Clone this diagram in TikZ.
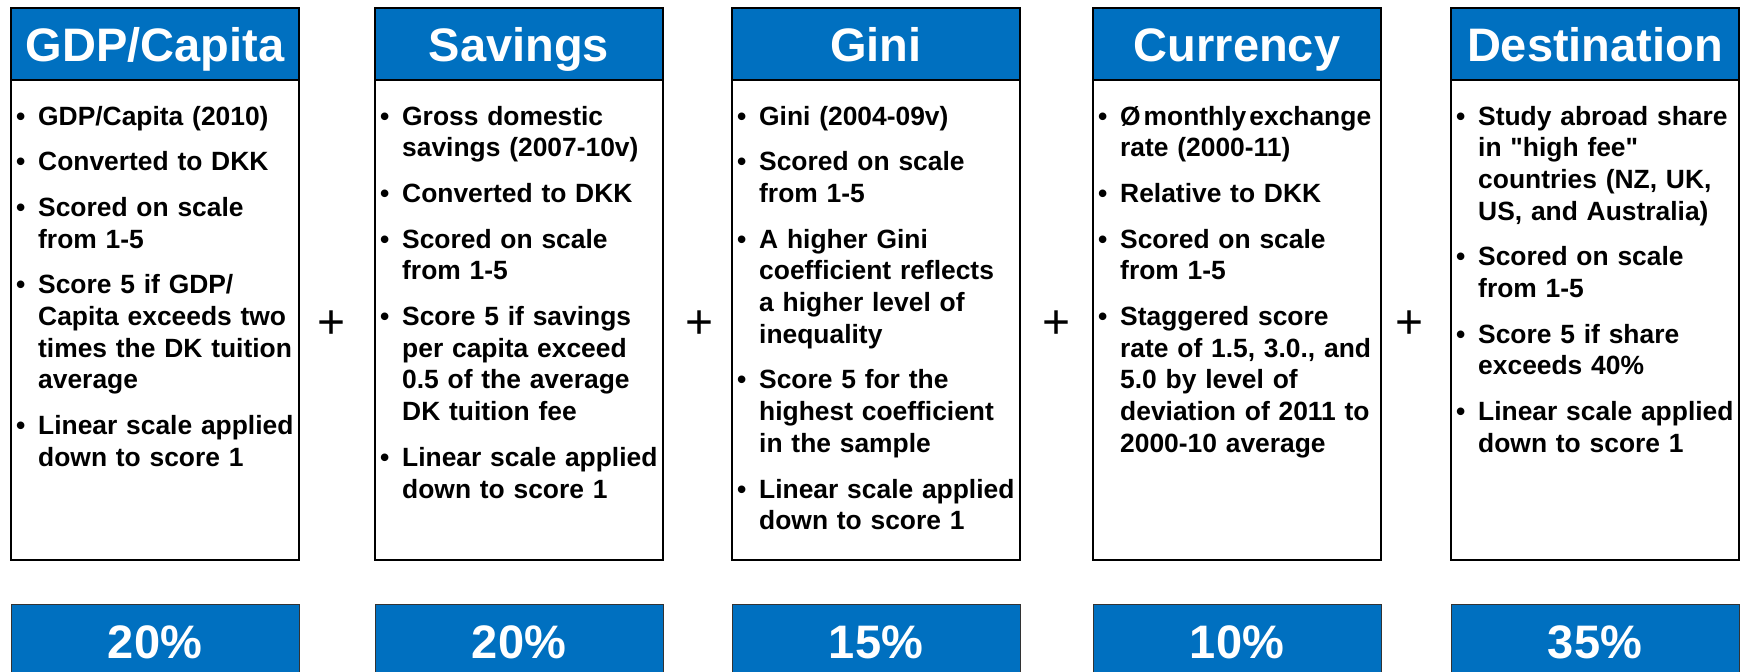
\documentclass[tikz,border=0pt]{standalone}
\usepackage{fontspec}
\setmainfont{Liberation Sans}[Ligatures={TeX,NoCommon}]
\definecolor{hdblue}{RGB}{0,112,192}
\newcommand{\bul}{\hangindent=22pt\hangafter=1\noindent\makebox[22pt][l]{\textbullet}}
\newcommand{\bodytxt}{\fontsize{26.4}{31.7}\selectfont\bfseries\setlength{\parskip}{14pt}}

\begin{document}
\begin{tikzpicture}[x=1pt, y=-1pt,
  head/.style = {draw, line width=1.5pt, fill=hdblue, text=white, minimum width=288pt, minimum height=72pt, inner sep=0pt, text height=34pt, text depth=0pt, font=\fontsize{47}{56}\selectfont\bfseries},
  body/.style = {draw, line width=1.5pt, fill=white, minimum width=288pt, minimum height=480pt},
  items/.style = {anchor=base west, inner sep=0pt, text width=300pt, align=left, font=\bodytxt},
  pct/.style = {draw=black!80, line width=1pt, fill=hdblue, text=white, minimum width=288pt, minimum height=74pt, inner sep=0pt, text height=34pt, text depth=0pt, font=\fontsize{47}{56}\selectfont\bfseries},
  plussign/.style = {inner sep=0pt, font=\fontsize{48}{48}\selectfont}]
\useasboundingbox (0,0) rectangle (1741,672);

% bodies
\node[body] (gdp_body) at (155, 320) {};
\node[body] (sav_body) at (519, 320) {};
\node[body] (gini_body) at (876, 320) {};
\node[body] (cur_body) at (1237, 320) {};
\node[body] (dest_body) at (1595, 320) {};

% headers
\node[head] (gdp_head) at (155, 44) {GDP/Capita};
\node[head] (sav_head) at (519, 44) {Savings};
\node[head] (gini_head) at (876, 44) {Gini};
\node[head] (cur_head) at (1237, 44) {Currency};
\node[head] (dest_head) at (1595, 44) {Destination};

% bullet texts
\node[items] (gdp_txt) at (16, 125) {
  \bul GDP/Capita (2010)\par
  \bul Converted to DKK\par
  \bul Scored on scale\newline from 1-5\par
  \bul Score 5 if GDP/\newline Capita exceeds two\newline times the DK tuition\newline average\par
  \bul Linear scale applied\newline down to score 1\par};
\node[items] (sav_txt) at (380, 125) {
  \bul Gross domestic\newline savings (2007-10v)\par
  \bul Converted to DKK\par
  \bul Scored on scale\newline from 1-5\par
  \bul Score 5 if savings\newline per capita exceed\newline 0.5 of the average\newline DK tuition fee\par
  \bul Linear scale applied\newline down to score 1\par};
\node[items] (gini_txt) at (737, 125) {
  \bul Gini (2004-09v)\par
  \bul Scored on scale\newline from 1-5\par
  \bul A higher Gini\newline coefficient reflects\newline a higher level of\newline inequality\par
  \bul Score 5 for the\newline highest coefficient\newline in the sample\par
  \bul Linear scale applied\newline down to score 1\par};
\node[items] (cur_txt) at (1098, 125) {
  \bul {\spaceskip=3pt Ø monthly exchange}\newline rate (2000-11)\par
  \bul Relative to DKK\par
  \bul Scored on scale\newline from 1-5\par
  \bul Staggered score\newline rate of 1.5, 3.0., and\newline 5.0 by level of\newline deviation of 2011 to\newline 2000-10 average\par};
\node[items] (dest_txt) at (1456, 125) {
  \bul Study abroad share\newline in \textquotedbl high fee\textquotedbl\newline countries (NZ, UK,\newline US, and Australia)\par
  \bul Scored on scale\newline from 1-5\par
  \bul Score 5 if share\newline exceeds 40\%\par
  \bul Linear scale applied\newline down to score 1\par};

% plus signs
\node[plussign] (plus1) at (332, 325) {+};
\node[plussign] (plus2) at (700, 325) {+};
\node[plussign] (plus3) at (1057, 325) {+};
\node[plussign] (plus4) at (1410, 325) {+};

% weights
\node[pct] (gdp_pct) at (155, 641) {20\%};
\node[pct] (sav_pct) at (519, 641) {20\%};
\node[pct] (gini_pct) at (876, 641) {15\%};
\node[pct] (cur_pct) at (1237, 641) {10\%};
\node[pct] (dest_pct) at (1595, 641) {35\%};
\end{tikzpicture}
\end{document}
